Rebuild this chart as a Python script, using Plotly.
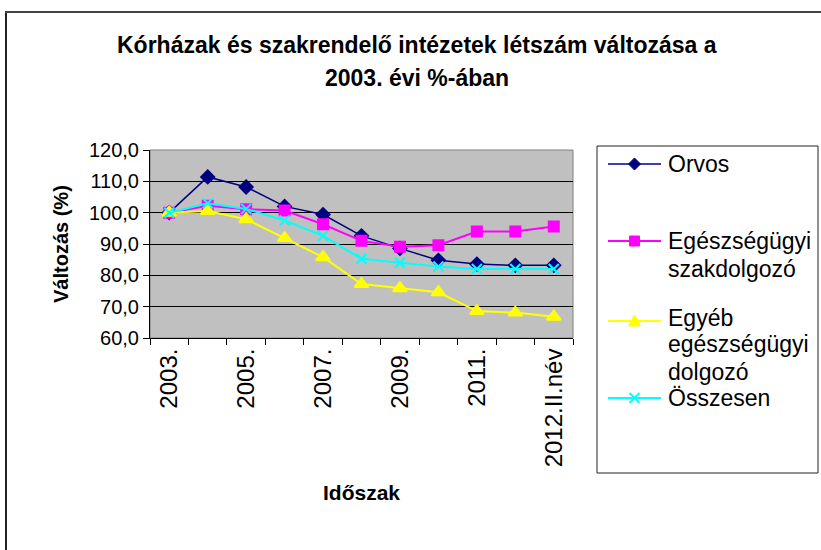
import plotly.graph_objects as go

categories = ["2003.", "2004.", "2005.", "2006.", "2007.", "2008.", "2009.", "2010.", "2011.", "2012.", "2012.II.név"]
tick_labels = ["2003.", "", "2005.", "", "2007.", "", "2009.", "", "2011.", "", "2012.II.név"]

orvos = [100.0, 111.4, 108.2, 102.0, 99.4, 92.6, 88.6, 84.8, 83.6, 83.2, 83.2]
szakdolgozo = [100.0, 102.2, 101.1, 100.7, 96.3, 91.0, 89.1, 89.6, 94.0, 94.0, 95.6]
egyeb = [100.0, 100.5, 97.9, 91.9, 85.8, 77.2, 75.9, 74.6, 68.6, 68.1, 66.8]
osszesen = [100.0, 103.0, 101.2, 97.5, 92.6, 85.3, 84.0, 82.8, 82.0, 82.0, 82.0]

series_names = ["Orvos", "Egészségügyi szakdolgozó", "Egyéb egészségügyi dolgozó", "Összesen"]
legend_lines = [["Orvos"], ["Egészségügyi", "szakdolgozó"], ["Egyéb", "egészségügyi", "dolgozó"], ["Összesen"]]
colors = ["#000080", "#FF00FF", "#FFFF00", "#00FFFF"]
symbols = ["diamond", "square", "triangle-up", "x-thin"]

FONT = "Liberation Sans, Arial, sans-serif"
W, H = 821, 550
L, R, T, B = 150, 573, 150, 338

def px(x):
    return (x - L) / (R - L)

def py(y):
    return (B - y) / (B - T)

fig = go.Figure()
data = [orvos, szakdolgozo, egyeb, osszesen]
msizes = [10, 10, 12, 10]
lwidths = [1.5, 2, 2, 2]
for name, vals, c, s, ms, lw in zip(series_names, data, colors, symbols, msizes, lwidths):
    fig.add_trace(go.Scatter(
        x=categories, y=vals, name=name, mode="lines+markers",
        line=dict(color=c, width=lw),
        marker=dict(symbol=s, size=ms, color=c, line=dict(color=c, width=2)),
        showlegend=False,
    ))

shapes = []
annotations = []

# outer chart border (left and top edges visible)
shapes.append(dict(type="line", xref="paper", yref="paper",
                   x0=px(6), x1=px(6), y0=py(555), y1=py(12),
                   line=dict(color="#222222", width=2)))
shapes.append(dict(type="line", xref="paper", yref="paper",
                   x0=px(5), x1=px(825), y0=py(12), y1=py(12),
                   line=dict(color="#444444", width=2)))
# plot area border
shapes.append(dict(type="rect", xref="paper", yref="paper",
                   x0=0, x1=1, y0=0, y1=1,
                   line=dict(color="#808080", width=1), layer="below"))
# legend box
shapes.append(dict(type="rect", xref="paper", yref="paper",
                   x0=px(597), x1=px(818), y0=py(473), y1=py(146),
                   line=dict(color="#222222", width=1), fillcolor="white"))

leg_y = [164, 241, 321, 398]
text_y = [[164], [241, 269], [318, 344, 372], [398]]
paths = [
    "M 0,-6 L 6,0 L 0,6 L -6,0 Z",
    "M -5,-5 L 5,-5 L 5,5 L -5,5 Z",
    "M -6,-5 L 6,-5 L 0,6 Z",
    "M -5,-5 L 5,5 M -5,5 L 5,-5",
]
for i in range(4):
    c = colors[i]
    shapes.append(dict(type="line", xref="paper", yref="paper",
                       x0=px(608), x1=px(661), y0=py(leg_y[i]), y1=py(leg_y[i]),
                       line=dict(color=c, width=lwidths[i])))
    filled = i < 3
    shapes.append(dict(type="path", xref="paper", yref="paper",
                       xsizemode="pixel", ysizemode="pixel",
                       xanchor=px(634.5), yanchor=py(leg_y[i]),
                       path=paths[i],
                       fillcolor=c if filled else None,
                       line=dict(color=c, width=2 if not filled else 1)))
    for t, yy in zip(legend_lines[i], text_y[i]):
        annotations.append(dict(text=t, xref="paper", yref="paper",
                                x=px(666), y=py(yy), xanchor="left", yanchor="middle",
                                showarrow=False, font=dict(family=FONT, size=23, color="black")))

# title lines
for t, yy in [("Kórházak és szakrendelő intézetek létszám változása a", 45), ("2003. évi %-ában", 78)]:
    annotations.append(dict(text="<b>" + t + "</b>", xref="paper", yref="paper",
                            x=px(417), y=py(yy), xanchor="center", yanchor="middle",
                            showarrow=False, font=dict(family=FONT, size=23, color="black")))
# axis titles
annotations.append(dict(text="<b>Időszak</b>", xref="paper", yref="paper",
                        x=px(361), y=py(492), xanchor="center", yanchor="middle",
                        showarrow=False, font=dict(family=FONT, size=21, color="black")))
annotations.append(dict(text="<b>Változás (%)</b>", xref="paper", yref="paper",
                        x=px(61), y=py(244), xanchor="center", yanchor="middle", textangle=-90,
                        showarrow=False, font=dict(family=FONT, size=20, color="black")))

fig.update_layout(
    width=W, height=H,
    margin=dict(l=L, r=W - R, t=T, b=H - B, pad=0),
    paper_bgcolor="white", plot_bgcolor="#C0C0C0",
    separators=", ",
    showlegend=False,
    shapes=shapes, annotations=annotations,
    font=dict(family=FONT, color="black"),
)
fig.update_xaxes(
    type="category", tickmode="array", tickvals=categories, ticktext=tick_labels,
    tickson="boundaries", ticks="outside", ticklen=6, tickcolor="black", tickwidth=1,
    tickangle=-90, tickfont=dict(family=FONT, size=24, color="black"),
    showline=True, linecolor="black", linewidth=1, showgrid=False, zeroline=False,
    range=[-0.5, 10.5],
)
fig.update_yaxes(
    range=[60, 120], dtick=10, tick0=60, tickformat=".1f",
    ticks="outside", ticklen=6, tickcolor="black", tickwidth=1,
    tickfont=dict(family=FONT, size=20, color="black"),
    showline=True, linecolor="black", linewidth=1,
    showgrid=True, gridcolor="black", gridwidth=1, zeroline=False,
)
fig.write_html("out.html", config={"displayModeBar": False},
               post_script="document.body.style.margin='0';document.body.style.overflow='hidden';")
